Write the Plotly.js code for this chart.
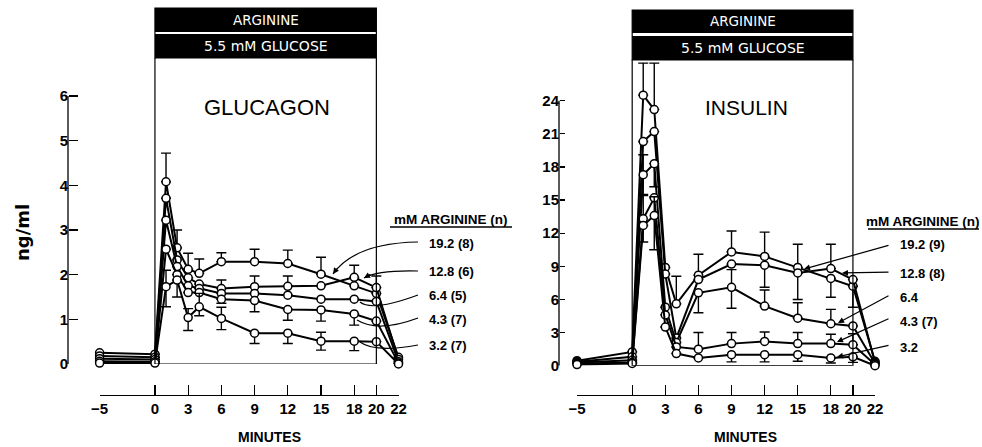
<!DOCTYPE html>
<html><head><meta charset="utf-8">
<script src="https://cdn.plot.ly/plotly-3.0.1.min.js"></script>
<style>html,body{margin:0;padding:0;background:#fff}</style>
</head><body><div id="chart" style="width:982px;height:447px"></div>
<script>
// ---------------- DATA ----------------
const minutes = [-5, 0, 1, 2, 3, 4, 6, 9, 12, 15, 18, 20, 22];
const tickMinutes = [-5, 0, 3, 6, 9, 12, 15, 18, 20, 22];
const glucagonTicks = [0, 1, 2, 3, 4, 5, 6];
const insulinTicks = [0, 3, 6, 9, 12, 15, 18, 21, 24];
const argLevels = ['19.2', '12.8', '6.4', '4.3', '3.2'];
const glucagonN = ['(8)', '(6)', '(5)', '(7)', '(7)'];
const insulinN = ['(9)', '(8)', '', '(7)', ''];

// Glucagon (ng/ml)
const glu_19_2 = [0.25, 0.22, 4.08, 2.60, 2.12, 2.03, 2.29, 2.29, 2.25, 2.01, 1.75, 1.58, 0.15];
const glu_12_8 = [0.18, 0.15, 3.71, 2.33, 1.93, 1.79, 1.69, 1.73, 1.74, 1.75, 1.94, 1.71, 0.10];
const glu_6_4  = [0.12, 0.10, 3.22, 2.18, 1.75, 1.69, 1.58, 1.58, 1.54, 1.45, 1.45, 1.40, 0.05];
const glu_4_3  = [0.06, 0.05, 2.57, 2.00, 1.60, 1.60, 1.45, 1.42, 1.22, 1.21, 1.12, 0.96, 0.02];
const glu_3_2  = [0.02, 0.02, 1.73, 1.88, 1.04, 1.28, 1.02, 0.69, 0.69, 0.51, 0.51, 0.50, 0.00];
// Glucagon error bars (up / down)
const glu_19_2_up = [0, 0, 0.64, 0.40, 0.36, 0.32, 0.20, 0.28, 0.30, 0.38, 0, 0, 0];
const glu_19_2_dn = [0, 0, 0, 0, 0, 0, 0, 0, 0, 0, 0, 0, 0];
const glu_12_8_up = [0, 0, 0, 0, 0, 0, 0.19, 0.24, 0.23, 0, 0.27, 0.26, 0];
const glu_12_8_dn = [0, 0, 0, 0, 0, 0, 0, 0, 0, 0, 0, 0, 0];
const glu_6_4_up  = [0, 0, 0, 0, 0, 0, 0, 0, 0, 0, 0, 0, 0];
const glu_6_4_dn  = [0, 0, 0, 0, 0, 0, 0.22, 0, 0, 0, 0, 0, 0];
const glu_4_3_up  = [0, 0, 0, 0, 0, 0, 0, 0, 0, 0, 0, 0, 0];
const glu_4_3_dn  = [0, 0, 0, 0, 0, 0, 0, 0.25, 0.24, 0.25, 0.25, 0, 0];
const glu_3_2_up  = [0, 0, 0.37, 0, 0.20, 0.30, 0.25, 0, 0, 0.20, 0, 0, 0];
const glu_3_2_dn  = [0, 0, 0.45, 0.38, 0.29, 0.20, 0.25, 0.23, 0.23, 0.20, 0.21, 0, 0];

// Insulin (ng/ml)
const ins_19_2 = [0.45, 1.25, 24.5, 23.2, 8.9, 5.6, 8.2, 10.3, 9.9, 8.9, 7.9, 7.2, 0.4];
const ins_12_8 = [0.35, 0.80, 20.3, 21.2, 8.3, 2.5, 7.8, 9.2, 9.1, 8.4, 8.8, 7.8, 0.3];
const ins_6_4  = [0.30, 0.50, 17.3, 18.3, 5.3, 2.1, 6.6, 7.1, 5.4, 4.3, 3.8, 3.6, 0.2];
const ins_4_3  = [0.20, 0.30, 13.3, 15.2, 4.6, 1.7, 1.5, 2.0, 2.2, 2.0, 2.0, 1.9, 0.1];
const ins_3_2  = [0.10, 0.20, 12.7, 13.6, 3.5, 1.1, 0.7, 1.0, 1.0, 1.0, 0.7, 0.8, 0.0];
// Insulin error bars (up / down)
const ins_19_2_up = [0, 0, 2.9, 4.2, 0, 2.5, 1.9, 1.9, 2.2, 2.1, 0, 0, 0];
const ins_19_2_dn = [0, 0, 0, 0, 0, 0, 0, 0, 0, 0, 1.7, 1.9, 0];
const ins_12_8_up = [0, 0, 0, 0, 0, 0, 0, 0, 0, 0, 2.2, 0, 0];
const ins_12_8_dn = [0, 0, 0, 0, 0, 0, 0, 0, 2.0, 2.4, 0, 0, 0];
const ins_6_4_up  = [0, 0, 1.8, 0, 0, 0, 0, 1.6, 1.45, 1.4, 1.3, 0, 0];
const ins_6_4_dn  = [0, 0, 1.8, 2.1, 0, 0, 1.8, 1.9, 0, 0, 0, 0, 0];
const ins_4_3_up  = [0, 0, 2.1, 0, 0, 0, 1.5, 1.0, 0.85, 1.0, 0.85, 1.0, 0];
const ins_4_3_dn  = [0, 0, 2.1, 0, 0, 0, 0, 0, 0, 0, 0, 0, 0];
const ins_3_2_up  = [0, 0, 0, 1.7, 0, 0, 0, 0, 0, 0, 0, 0, 0];
const ins_3_2_dn  = [0, 0, 0, 3.1, 0, 0, 0, 0.65, 0.65, 0.6, 0.45, 0.5, 0];

// ---------------- LAYOUT HELPERS ----------------
const W = 982, H = 447;
const px = v => v / W;
const py = v => 1 - v / H;

const gluSeries = [[glu_19_2, glu_19_2_up, glu_19_2_dn], [glu_12_8, glu_12_8_up, glu_12_8_dn],
  [glu_6_4, glu_6_4_up, glu_6_4_dn], [glu_4_3, glu_4_3_up, glu_4_3_dn], [glu_3_2, glu_3_2_up, glu_3_2_dn]];
const insSeries = [[ins_19_2, ins_19_2_up, ins_19_2_dn], [ins_12_8, ins_12_8_up, ins_12_8_dn],
  [ins_6_4, ins_6_4_up, ins_6_4_dn], [ins_4_3, ins_4_3_up, ins_4_3_dn], [ins_3_2, ins_3_2_up, ins_3_2_dn]];

function mkTrace(s, name, xa, ya) {
  return {
    type: 'scatter', mode: 'lines+markers', name: name,
    x: minutes, y: s[0], xaxis: xa, yaxis: ya, cliponaxis: false, hoverinfo: 'skip',
    line: {color: '#000', width: 2},
    marker: {symbol: 'circle', size: 8, color: '#fff', line: {color: '#000', width: 1.5}},
    error_y: {type: 'data', symmetric: false, array: s[1], arrayminus: s[2],
      color: '#000', thickness: 1.4, width: 5}
  };
}
const traces = [];
gluSeries.forEach((s, i) => traces.push(mkTrace(s, 'Glucagon ' + argLevels[i], 'x', 'y')));
insSeries.forEach((s, i) => traces.push(mkTrace(s, 'Insulin ' + argLevels[i], 'x2', 'y2')));

const tickFont = {family: 'Liberation Sans Narrow, Liberation Sans, Arial, sans-serif', size: 15,
  color: '#000', weight: 'bold'};
function xAx(l, r) {
  return {domain: [px(l), px(r)], range: [-5, 22], anchor: 'free', position: py(395),
    tickmode: 'array', tickvals: tickMinutes, ticks: 'inside', ticklen: 10, tickwidth: 1.3,
    tickcolor: '#000', showline: true, linecolor: '#000', linewidth: 1.3,
    showgrid: false, zeroline: false, tickfont: tickFont, fixedrange: true};
}
// y axes: plot area reaches the top of the figure; the axis line is drawn only over the tick span
function yAx(zeroPx, pxPerUnit, vals, xpos, tl, fs) {
  return {domain: [py(zeroPx), 1], range: [0, zeroPx / pxPerUnit], anchor: 'free', position: px(xpos),
    tickmode: 'array', tickvals: vals, ticks: 'inside', ticklen: tl, tickwidth: 1.3,
    tickcolor: '#000', showline: false,
    showgrid: false, zeroline: false, tickfont: Object.assign({}, tickFont, {size: fs}), fixedrange: true};
}

const shapes = [];
const annotations = [];
function txt(o) {
  return Object.assign({showarrow: false, xanchor: 'center', yanchor: 'middle'}, o);
}
// y axis lines over the labelled span
shapes.push({type: 'line', xref: 'paper', yref: 'y', x0: px(68), x1: px(68), y0: 0, y1: 6,
  line: {color: '#000', width: 1.3}});
shapes.push({type: 'line', xref: 'paper', yref: 'y2', x0: px(559), x1: px(559), y0: 0, y1: 24,
  line: {color: '#000', width: 1.3}});

function panelBox(xref, top, b1, b2t, b2b, title, tx, ytitle, tsize) {
  shapes.push({type: 'rect', xref: xref, yref: 'paper', x0: 0, x1: 20, y0: py(b2b), y1: py(top),
    line: {color: '#000', width: 1.2}, fillcolor: 'rgba(0,0,0,0)'});
  shapes.push({type: 'rect', xref: xref, yref: 'paper', x0: 0, x1: 20, y0: py(b1), y1: py(top),
    line: {width: 0}, fillcolor: '#000'});
  shapes.push({type: 'rect', xref: xref, yref: 'paper', x0: 0, x1: 20, y0: py(b2b), y1: py(b2t),
    line: {width: 0}, fillcolor: '#000'});
  annotations.push(txt({xref: xref, yref: 'paper', x: 10, y: py((top + b1) / 2), text: 'ARGININE',
    font: {family: 'DejaVu Sans', size: 13.5, color: '#fff'}}));
  annotations.push(txt({xref: xref, yref: 'paper', x: 10, y: py((b2t + b2b) / 2), text: '5.5 mM GLUCOSE',
    font: {family: 'DejaVu Sans', size: 14, color: '#fff'}}));
  annotations.push(txt({xref: xref, yref: 'paper', x: tx, y: py(ytitle), text: title,
    font: {family: 'Liberation Sans, Arial', size: tsize, color: '#000'}}));
}
panelBox('x', 8, 32, 34, 58, 'GLUCAGON', 10.1, 107, 22);
panelBox('x2', 10, 33, 36, 60, 'INSULIN', 10.4, 107, 21);
// open box sides and bottom below the black bars (data coordinates)
[['x', 'y', 6.85], ['x2', 'y2', 27.7]].forEach(b => {
  shapes.push({type: 'path', xref: b[0], yref: b[1],
    path: `M 0,${b[2]} L 0,0 L 20,0 L 20,${b[2]}`, line: {color: '#000', width: 1.2}});
});

// legend blocks
function legendBlock(hx, hy, ul0, ul1, uly, lx, lys, nlist) {
  annotations.push(txt({xref: 'paper', yref: 'paper', x: px(hx), y: py(hy), text: 'mM ARGININE (n)',
    font: {family: 'Liberation Sans, Arial', size: 13.5, color: '#000', weight: 'bold'}}));
  shapes.push({type: 'line', xref: 'paper', yref: 'paper', x0: px(ul0), x1: px(ul1), y0: py(uly), y1: py(uly),
    line: {color: '#000', width: 1.3}});
  argLevels.forEach((a, i) => {
    annotations.push(txt({xref: 'paper', yref: 'paper', x: px(lx), y: py(lys[i]), xanchor: 'left',
      text: a + (nlist[i] ? ' ' + nlist[i] : ''),
      font: {family: 'Liberation Sans, Arial', size: 13, color: '#000', weight: 'bold'}}));
  });
}
legendBlock(451, 219, 390, 512, 227, 427, [243, 271, 295, 319, 345], glucagonN);
legendBlock(923, 222, 868, 979, 229, 898, [245, 273, 297, 321, 347], insulinN);

// glucagon curved pointers
const gluCurves = [
  [[418, 242], [355, 243], [333, 274]],
  [[418, 271], [378, 270], [364, 278]],
  [[418, 295], [372, 312], [360, 302]],
  [[418, 318], [378, 333], [357, 320]],
  [[418, 345], [375, 353], [360, 342]]
];
gluCurves.forEach((c, i) => {
  shapes.push({type: 'path', xref: 'paper', yref: 'paper',
    path: `M ${px(c[0][0])},${py(c[0][1])} Q ${px(c[1][0])},${py(c[1][1])} ${px(c[2][0])},${py(c[2][1])}`,
    line: {color: '#000', width: 1.2}});
  if (i < 2) {
    const dx = c[1][0] - c[2][0], dy = c[1][1] - c[2][1];
    const L = Math.hypot(dx, dy);
    annotations.push({xref: 'paper', yref: 'paper', x: px(c[2][0]), y: py(c[2][1]), text: ' ',
      showarrow: true, ax: dx / L * 9, ay: dy / L * 9, arrowhead: 2, arrowsize: 1, arrowwidth: 1.2,
      arrowcolor: '#000', standoff: 0, font: {size: 1}});
  }
});
// insulin straight pointers
const insArrows = [[[890, 245], [804, 269]], [[890, 272], [842, 273]], [[890, 295], [838, 323]],
  [[890, 318], [837, 342]], [[890, 345], [837, 357]]];
insArrows.forEach(a => {
  annotations.push({xref: 'paper', yref: 'paper', x: px(a[1][0]), y: py(a[1][1]), text: ' ',
    showarrow: true, ax: a[0][0] - a[1][0], ay: a[0][1] - a[1][1], arrowhead: 2, arrowsize: 1,
    arrowwidth: 1.2, arrowcolor: '#000', standoff: 0, font: {size: 1}});
});

// axis titles
annotations.push(txt({xref: 'paper', yref: 'paper', x: px(269), y: py(437), text: 'MINUTES',
  font: {family: 'Liberation Sans, Arial', size: 14, color: '#000', weight: 'bold'}}));
annotations.push(txt({xref: 'paper', yref: 'paper', x: px(745), y: py(437), text: 'MINUTES',
  font: {family: 'Liberation Sans, Arial', size: 14, color: '#000', weight: 'bold'}}));
annotations.push(txt({xref: 'paper', yref: 'paper', x: px(22), y: py(233), text: 'ng/ml',
  textangle: -90, font: {family: 'DejaVu Sans', size: 18, color: '#000', weight: 'bold'}}));

const layout = {
  width: W, height: H, margin: {l: 0, r: 0, t: 0, b: 0},
  paper_bgcolor: '#fff', plot_bgcolor: 'rgba(0,0,0,0)', showlegend: false,
  xaxis: xAx(99.6, 398.5),
  yaxis: yAx(364, 44.67, glucagonTicks, 68, 9, 15),
  xaxis2: xAx(577, 875),
  yaxis2: yAx(365.7, 11.042, insulinTicks, 559, 5, 15),
  shapes: shapes, annotations: annotations
};
Plotly.newPlot('chart', traces, layout, {displayModeBar: false, staticPlot: true});
</script></body></html>
